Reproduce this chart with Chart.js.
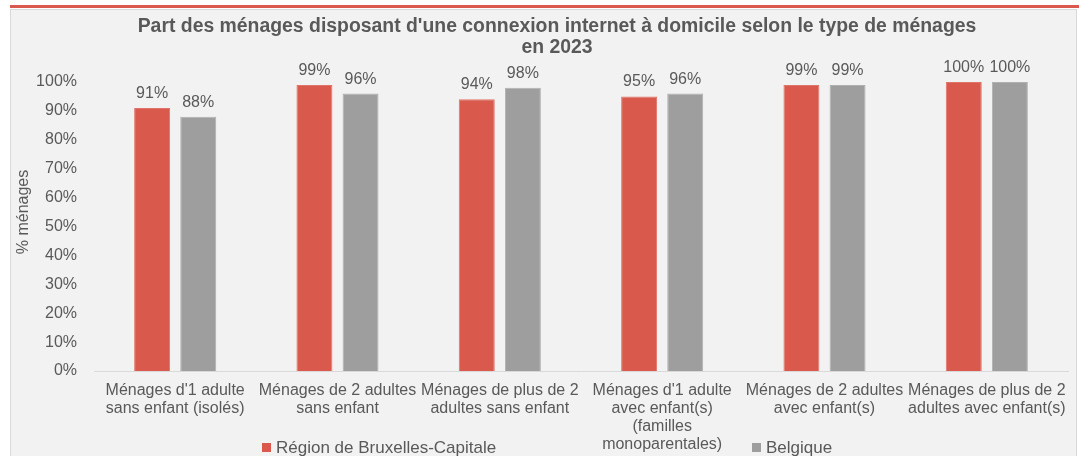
<!DOCTYPE html>
<html>
<head>
<meta charset="utf-8">
<script src="https://cdn.jsdelivr.net/npm/chart.js@4.4.0/dist/chart.umd.min.js"></script>
<style>
  html, body { margin: 0; padding: 0; background: #fff; }
  #wrap { width: 1079px; height: 456px; }
</style>
</head>
<body>
<div id="wrap"><canvas id="bar-chart" width="1079" height="456"></canvas></div>
<script>
// Data
var categories = [
    ["Ménages d'1 adulte", "sans enfant (isolés)"],
    ["Ménages de 2 adultes", "sans enfant"],
    ["Ménages de plus de 2", "adultes sans enfant"],
    ["Ménages d'1 adulte", "avec enfant(s)", "(familles", "monoparentales)"],
    ["Ménages de 2 adultes", "avec enfant(s)"],
    ["Ménages de plus de 2", "adultes avec enfant(s)"]
];
var seriesNames = ["Région de Bruxelles-Capitale", "Belgique"];
var bruxelles = [91, 99, 94, 95, 99, 100];
var belgique = [88, 96, 98, 96, 99, 100];
var yTicks = [0, 10, 20, 30, 40, 50, 60, 70, 80, 90, 100];

var textColor = "#595959";
var fontFamily = "'Liberation Sans', Arial, sans-serif";

// panel, title, legend, value labels
var decor = {
    id: "decor",
    beforeDraw: function (chart) {
        var c = chart.ctx;
        c.save();
        c.fillStyle = "#f2f2f2";
        c.fillRect(10, 9, 1067, 447);
        c.strokeStyle = "#d9d9d9";
        c.lineWidth = 1;
        c.strokeRect(10.5, 9.5, 1066, 450);
        c.fillStyle = "#d9594c";
        c.fillRect(10, 5, 1069, 3);
        c.restore();
    },
    afterDraw: function (chart) {
        var c = chart.ctx;
        c.save();
        c.fillStyle = textColor;
        c.textAlign = "center";
        c.textBaseline = "middle";
        c.font = "bold 19.4px " + fontFamily;
        c.fillText("Part des ménages disposant d'une connexion internet à domicile selon le type de ménages", 557, 27);
        c.fillText("en 2023", 557, 48);

        // y title
        c.font = "16px " + fontFamily;
        c.translate(24, 212);
        c.rotate(-Math.PI / 2);
        c.fillText("% ménages", 0, 0);
        c.restore();

        // legend
        c.save();
        c.font = "17px " + fontFamily;
        c.textBaseline = "middle";
        c.textAlign = "left";
        var legendPos = [262, 752];
        chart.data.datasets.forEach(function (ds, i) {
            var x = legendPos[i];
            c.fillStyle = ds.backgroundColor;
            c.fillRect(x, 443, 9, 9);
            c.fillStyle = textColor;
            c.fillText(ds.label, x + 14, 448);
        });
        c.restore();
    },
    afterDatasetsDraw: function (chart) {
        var c = chart.ctx;
        c.save();
        c.font = "16px " + fontFamily;
        c.fillStyle = textColor;
        c.textAlign = "center";
        c.textBaseline = "alphabetic";
        chart.data.datasets.forEach(function (ds, i) {
            chart.getDatasetMeta(i).data.forEach(function (bar, j) {
                c.fillText(Math.round(ds.data[j]) + "%", bar.x, bar.y - 10);
            });
        });
        c.restore();
    }
};

var ctx = document.getElementById("bar-chart").getContext("2d");
var myChart = new Chart(ctx, {
    type: "bar",
    data: {
        labels: categories,
        datasets: [{
            label: seriesNames[0],
            backgroundColor: "#d9594c",
            borderColor: "#e07468",
            borderWidth: 1,
            data: bruxelles
        }, {
            label: seriesNames[1],
            backgroundColor: "#9e9e9e",
            borderColor: "#b0b0b0",
            borderWidth: 1,
            data: belgique
        }]
    },
    options: {
        responsive: false,
        animation: false,
        devicePixelRatio: 1,
        layout: { padding: { left: 10, right: 11, top: 82, bottom: 0 } },
        categoryPercentage: 0.568,
        barPercentage: 0.78,
        plugins: {
            legend: { display: false },
            title: { display: false },
            tooltip: { enabled: false }
        },
        scales: {
            x: {
                grid: { display: false, drawTicks: false },
                border: { display: true, color: "#d9d9d9", width: 1 },
                ticks: {
                    color: textColor,
                    font: { family: fontFamily, size: 16, lineHeight: 1.12 },
                    padding: 11,
                    maxRotation: 0,
                    autoSkip: false
                },
                afterFit: function (scale) { scale.height = 85; }
            },
            y: {
                min: 0,
                max: 100,
                afterBuildTicks: function (scale) {
                    scale.ticks = yTicks.map(function (v) { return { value: v }; });
                },
                grid: { display: false, drawTicks: false },
                border: { display: false },
                ticks: {
                    color: textColor,
                    font: { family: fontFamily, size: 16 },
                    padding: 17,
                    callback: function (v) { return v + "%"; }
                },
                afterFit: function (scale) { scale.width = 84; }
            }
        }
    },
    plugins: [decor]
});
</script>
</body>
</html>
